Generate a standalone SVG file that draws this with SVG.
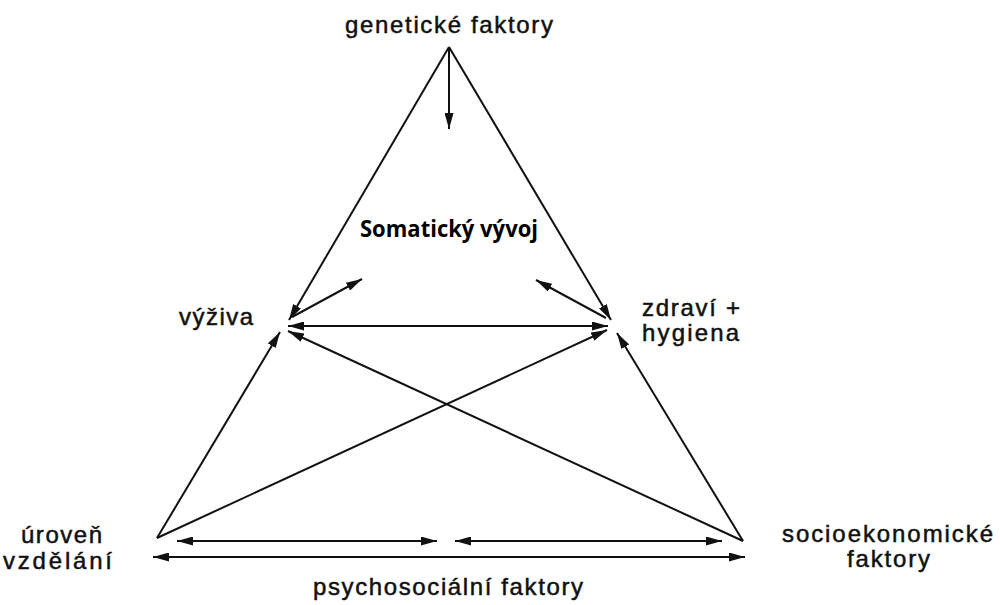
<svg xmlns="http://www.w3.org/2000/svg" width="1000" height="605" viewBox="0 0 1000 605">
  <style>
    .lbl { font-family: "Liberation Sans", Arial, sans-serif; font-size: 24px; fill: #111; stroke: #111; stroke-width: 0.5; }
    .title { font-family: "Open Sans", "Liberation Sans", sans-serif; font-size: 23px; font-weight: bold; fill: #000; }
    .ln { stroke: #111; stroke-width: 2; fill: none; }
  </style>
  <defs>
    <marker id="ah" viewBox="0 0 16 9" refX="16" refY="4.5" markerWidth="16" markerHeight="9" markerUnits="userSpaceOnUse" orient="auto-start-reverse">
      <path d="M0,0 L16,4.5 L0,9 Z" fill="#111"/>
    </marker>
  </defs>
  <rect width="1000" height="605" fill="#fff"/>

  <g id="connectors">
    <line class="ln" x1="449" y1="47" x2="289" y2="320" marker-end="url(#ah)"/>
    <line class="ln" x1="449" y1="47" x2="611" y2="320" marker-end="url(#ah)"/>
    <line class="ln" x1="449" y1="47" x2="449" y2="129" marker-end="url(#ah)"/>
    <line class="ln" x1="292" y1="317" x2="362" y2="279" marker-end="url(#ah)"/>
    <line class="ln" x1="606" y1="318" x2="536" y2="280" marker-end="url(#ah)"/>
    <line class="ln" x1="288" y1="326" x2="608" y2="326" marker-start="url(#ah)" marker-end="url(#ah)"/>
    <line class="ln" x1="157" y1="538" x2="280" y2="332" marker-end="url(#ah)"/>
    <line class="ln" x1="157" y1="538" x2="607" y2="330" marker-end="url(#ah)"/>
    <line class="ln" x1="743" y1="541" x2="288" y2="331" marker-end="url(#ah)"/>
    <line class="ln" x1="743" y1="541" x2="617" y2="333" marker-end="url(#ah)"/>
    <line class="ln" x1="177" y1="541" x2="437" y2="541" marker-start="url(#ah)" marker-end="url(#ah)"/>
    <line class="ln" x1="455" y1="541" x2="722" y2="541" marker-start="url(#ah)" marker-end="url(#ah)"/>
    <line class="ln" x1="153" y1="557" x2="745" y2="557" marker-start="url(#ah)" marker-end="url(#ah)"/>
  </g>

  <g id="genetic">
    <text class="lbl" x="345" y="33" textLength="208" lengthAdjust="spacing">genetické faktory</text>
  </g>
  <g id="somatic">
    <text class="title" x="360" y="237" textLength="178" lengthAdjust="spacingAndGlyphs">Somatický vývoj</text>
  </g>
  <g id="nutrition">
    <text class="lbl" x="179" y="325" textLength="74" lengthAdjust="spacing">výživa</text>
  </g>
  <g id="health">
    <text class="lbl" x="642" y="316" textLength="98" lengthAdjust="spacing">zdraví +</text>
    <text class="lbl" x="642" y="341" textLength="97" lengthAdjust="spacing">hygiena</text>
  </g>
  <g id="education">
    <text class="lbl" x="21" y="543" textLength="81" lengthAdjust="spacing">úroveň</text>
    <text class="lbl" x="3" y="569" textLength="109" lengthAdjust="spacing">vzdělání</text>
  </g>
  <g id="socioeconomic">
    <text class="lbl" x="782" y="542" textLength="211" lengthAdjust="spacing">socioekonomické</text>
    <text class="lbl" x="847" y="567" textLength="83" lengthAdjust="spacing">faktory</text>
  </g>
  <g id="psychosocial">
    <text class="lbl" x="313" y="595" textLength="270" lengthAdjust="spacing">psychosociální faktory</text>
  </g>
</svg>
